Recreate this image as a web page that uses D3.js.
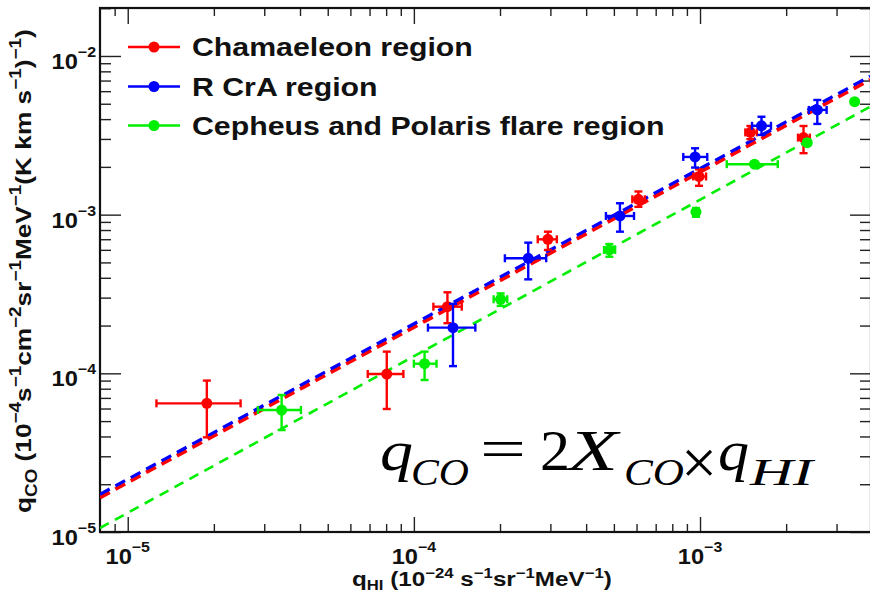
<!DOCTYPE html>
<html><head><meta charset="utf-8">
<script src="https://cdn.jsdelivr.net/npm/d3@7"></script>
<style>body{margin:0;background:#fff} svg{display:block}</style>
</head><body><svg id="c" width="870" height="595"></svg>
<script>
// ---------------- data ----------------
const seriesNames = ["Chamaeleon region", "R CrA region", "Cepheus and Polaris flare region"];
const seriesColors = ["#ff0000", "#0000ff", "#00ee00"];

const chamX   = [1.89e-5, 8.04e-5, 1.31e-4, 2.94e-4, 6.09e-4, 9.92e-4, 1.50e-3, 2.30e-3];
const chamXLo = [1.26e-5, 6.90e-5, 1.17e-4, 2.71e-4, 5.80e-4, 9.47e-4, 1.44e-3, 2.20e-3];
const chamXHi = [2.48e-5, 9.19e-5, 1.47e-4, 3.16e-4, 6.42e-4, 1.05e-3, 1.58e-3, 2.42e-3];
const chamY   = [6.47e-5, 9.90e-5, 2.63e-4, 6.99e-4, 1.25e-3, 1.74e-3, 3.30e-3, 3.06e-3];
const chamYLo = [3.95e-5, 5.96e-5, 2.07e-4, 5.99e-4, 1.12e-3, 1.52e-3, 2.99e-3, 2.44e-3];
const chamYHi = [9.00e-5, 1.37e-4, 3.24e-4, 7.81e-4, 1.40e-3, 1.93e-3, 3.62e-3, 3.62e-3];

const rcraX   = [1.37e-4, 2.51e-4, 5.25e-4, 9.61e-4, 1.64e-3, 2.57e-3];
const rcraXLo = [1.12e-4, 2.08e-4, 4.69e-4, 8.74e-4, 1.52e-3, 2.40e-3];
const rcraXHi = [1.64e-4, 2.90e-4, 5.88e-4, 1.06e-3, 1.77e-3, 2.77e-3];
const rcraY   = [1.94e-4, 5.31e-4, 9.81e-4, 2.31e-3, 3.63e-3, 4.57e-3];
const rcraYLo = [1.11e-4, 3.91e-4, 7.81e-4, 1.98e-3, 3.18e-3, 3.73e-3];
const rcraYHi = [2.74e-4, 6.66e-4, 1.18e-3, 2.62e-3, 4.14e-3, 5.28e-3];

const cephX   = [3.45e-5, 1.09e-4, 2.01e-4, 4.82e-4, 9.68e-4, 1.55e-3, 2.37e-3, 3.47e-3];
const cephXLo = [2.85e-5, 1.00e-4, 1.90e-4, 4.62e-4, 9.55e-4, 1.24e-3, 2.33e-3, 3.42e-3];
const cephXHi = [4.03e-5, 1.20e-4, 2.12e-4, 5.05e-4, 9.81e-4, 1.87e-3, 2.41e-3, 3.52e-3];
const cephY   = [5.87e-5, 1.15e-4, 2.93e-4, 5.99e-4, 1.04e-3, 2.08e-3, 2.84e-3, 5.15e-3];
const cephYLo = [4.39e-5, 9.08e-5, 2.66e-4, 5.43e-4, 9.70e-4, 2.03e-3, 2.72e-3, 4.97e-3];
const cephYHi = [7.30e-5, 1.37e-4, 3.19e-4, 6.53e-4, 1.10e-3, 2.13e-3, 2.97e-3, 5.33e-3];

// fitted relations q_CO = 2 X_CO q_HI (end points of the dashed lines)
const fitX    = [8.0e-6, 3.93e-3];
const fitCham = [1.65e-5, 7.10e-3];
const fitRcra = [1.73e-5, 7.45e-3];
const fitCeph = [1.06e-5, 4.79e-3];

// axes
const xDomain = [8.0e-6, 3.927e-3];
const yDomain = [1e-5, 2.006e-2];
const xMajor = [1e-5, 1e-4, 1e-3];
const xMajorExp = ["\u22125", "\u22124", "\u22123"];
const yMajor = [1e-5, 1e-4, 1e-3, 1e-2];
const yMajorExp = ["\u22125", "\u22124", "\u22123", "\u22122"];
const minorMult = [2, 3, 4, 5, 6, 7, 8, 9];

// ---------------- drawing ----------------
const FONT = "'Liberation Sans', Arial, Helvetica, sans-serif";
const SERIF = "'Liberation Serif', 'Times New Roman', serif";
const svg = d3.select("#c");
const L = 100, R = 870, T = 8, B = 532;

const x = d3.scaleLog().domain(xDomain).range([L, R]);
const y = d3.scaleLog().domain(yDomain).range([B, T]);

const inX = v => v >= xDomain[0] * 1.0001 && v <= xDomain[1];
const inY = v => v > yDomain[0] * 1.0001 && v < yDomain[1];
const xMinor = [1e-6, 1e-5, 1e-4, 1e-3].flatMap(d => minorMult.map(m => m * d)).filter(inX);
const yMinor = [1e-5, 1e-4, 1e-3, 1e-2].flatMap(d => minorMult.map(m => m * d)).filter(inY);

function styleAxis(g) {
  g.select(".domain").remove();
  g.selectAll("line").attr("stroke", "#222").attr("stroke-width", 1.4);
}
// bottom
svg.append("g").attr("transform", `translate(0,${B})`)
  .call(d3.axisBottom(x).tickValues(xMinor).tickSize(-8).tickFormat("")).call(styleAxis);
svg.append("g").attr("transform", `translate(0,${B})`)
  .call(d3.axisBottom(x).tickValues(xMajor).tickSize(-15).tickFormat("")).call(styleAxis);
// top
svg.append("g").attr("transform", `translate(0,${T})`)
  .call(d3.axisTop(x).tickValues(xMinor).tickSize(-8).tickFormat("")).call(styleAxis);
svg.append("g").attr("transform", `translate(0,${T})`)
  .call(d3.axisTop(x).tickValues(xMajor).tickSize(-16).tickFormat("")).call(styleAxis);
// left
svg.append("g").attr("transform", `translate(${L},0)`)
  .call(d3.axisLeft(y).tickValues(yMinor).tickSize(-11).tickFormat("")).call(styleAxis);
svg.append("g").attr("transform", `translate(${L},0)`)
  .call(d3.axisLeft(y).tickValues(yMajor).tickSize(-21).tickFormat("")).call(styleAxis);
// right
svg.append("g").attr("transform", `translate(${R},0)`)
  .call(d3.axisRight(y).tickValues(yMinor).tickSize(-10).tickFormat("")).call(styleAxis);
svg.append("g").attr("transform", `translate(${R},0)`)
  .call(d3.axisRight(y).tickValues(yMajor).tickSize(-20).tickFormat("")).call(styleAxis);

// frame
svg.append("rect").attr("x", L).attr("y", T).attr("width", R - L + 1).attr("height", B - T)
  .attr("fill", "none").attr("stroke", "#111").attr("stroke-width", 2.2);

// tick labels
function powLabel(g, px, py, exp, anchor, sx) {
  const t = g.append("text")
    .attr("transform", `translate(${px},${py}) scale(${sx},1)`)
    .attr("text-anchor", anchor).attr("font-family", FONT).attr("font-weight", "bold")
    .attr("font-size", 21.5).attr("fill", "#111");
  t.append("tspan").text("10");
  t.append("tspan").attr("font-size", 14.5).attr("dy", -12).text(exp);
  return t;
}
const labels = svg.append("g");
xMajor.forEach((d, i) => powLabel(labels, x(d), 564, xMajorExp[i], "middle", 1.1));
yMajor.forEach((d, i) => powLabel(labels, 96, y(d) + 13, yMajorExp[i], "end", 1.1));

// rich text helper (levels: 0 normal, 1 superscript, -1 subscript)
function richText(g, parts, size, smallSize, supRaise, subDrop) {
  const t = g.append("text").attr("font-family", FONT).attr("font-weight", "bold")
    .attr("font-size", size).attr("fill", "#111");
  let cur = 0;
  const off = {"0": 0, "1": -supRaise * size, "-1": subDrop * size};
  parts.forEach(([s, lev]) => {
    const dy = off[lev] - off[cur];
    cur = lev;
    const ts = t.append("tspan").attr("dy", dy).text(s);
    if (lev !== 0) ts.attr("font-size", smallSize);
  });
  return t;
}
function fitTo(t, tx, ty, targetW, sy, rot) {
  const w = t.node().getComputedTextLength();
  const sx = targetW / w;
  t.attr("transform", `translate(${tx},${ty})${rot ? " rotate(" + rot + ")" : ""} scale(${sx},${sy})`);
}

// x title
const xt = richText(svg, [["q", 0], ["HI", -1], [" (10", 0], ["\u221224", 1], [" s", 0], ["\u22121", 1],
  ["sr", 0], ["\u22121", 1], ["MeV", 0], ["\u22121", 1], [")", 0]], 21, 14.5, 0.4, 0.2);
fitTo(xt, 352, 586, 260, 1);

// y title
const yt = richText(svg, [["q", 0], ["CO", -1], [" (10", 0], ["\u22124", 1], ["s", 0], ["\u22121", 1],
  ["cm", 0], ["\u22122", 1], ["sr", 0], ["\u22121", 1], ["MeV", 0], ["\u22121", 1], ["(K km s", 0],
  ["\u22121", 1], [")", 0], ["\u22121", 1], [")", 0]], 19.5, 14, 0.45, 0.28);
fitTo(yt, 31, 513, 484, 1.15, -90);

// fitted dashed lines
const lineGen = d3.line().x(d => x(d[0])).y(d => y(d[1]));
const fits = [
  {vals: fitCeph, color: seriesColors[2], w: 2.6, dash: "10,7"},
  {vals: fitCham, color: seriesColors[0], w: 3.8, dash: "11,6.5"},
  {vals: fitRcra, color: seriesColors[1], w: 3.2, dash: "11,6.5"}
];
svg.append("clipPath").attr("id", "plotclip").append("rect")
  .attr("x", L).attr("y", T).attr("width", R - L).attr("height", B - T);
fits.forEach(f => {
  svg.append("path").datum(fitX.map((v, i) => [v, f.vals[i]]))
    .attr("d", lineGen).attr("fill", "none").attr("stroke", f.color)
    .attr("stroke-width", f.w).attr("stroke-dasharray", f.dash)
    .attr("clip-path", "url(#plotclip)");
});

// data points with error bars
const series = [
  {xs: chamX, xl: chamXLo, xh: chamXHi, ys: chamY, yl: chamYLo, yh: chamYHi, color: seriesColors[0]},
  {xs: rcraX, xl: rcraXLo, xh: rcraXHi, ys: rcraY, yl: rcraYLo, yh: rcraYHi, color: seriesColors[1]},
  {xs: cephX, xl: cephXLo, xh: cephXHi, ys: cephY, yl: cephYLo, yh: cephYHi, color: seriesColors[2]}
];
const CAP = 4;
series.forEach(s => {
  const g = svg.append("g").attr("stroke", s.color).attr("fill", s.color);
  s.xs.forEach((xv, i) => {
    const cx = x(xv), cy = y(s.ys[i]);
    const x0 = x(s.xl[i]), x1 = x(s.xh[i]), y0 = y(s.yl[i]), y1 = y(s.yh[i]);
    const e = g.append("g").attr("stroke-width", 2.4);
    e.append("line").attr("x1", x0).attr("x2", x1).attr("y1", cy).attr("y2", cy);
    e.append("line").attr("x1", cx).attr("x2", cx).attr("y1", y0).attr("y2", y1);
    e.append("line").attr("x1", x0).attr("x2", x0).attr("y1", cy - CAP).attr("y2", cy + CAP);
    e.append("line").attr("x1", x1).attr("x2", x1).attr("y1", cy - CAP).attr("y2", cy + CAP);
    e.append("line").attr("x1", cx - CAP).attr("x2", cx + CAP).attr("y1", y0).attr("y2", y0);
    e.append("line").attr("x1", cx - CAP).attr("x2", cx + CAP).attr("y1", y1).attr("y2", y1);
    g.append("circle").attr("cx", cx).attr("cy", cy).attr("r", 5.5).attr("stroke", "none");
  });
});

// legend
const legRows = [47, 86.5, 125.5];
const leg = svg.append("g");
let legScale = null;
seriesNames.forEach((name, i) => {
  const yy = legRows[i];
  leg.append("line").attr("x1", 128).attr("x2", 180).attr("y1", yy).attr("y2", yy)
    .attr("stroke", seriesColors[i]).attr("stroke-width", 2.6);
  leg.append("circle").attr("cx", 154).attr("cy", yy).attr("r", 5.5).attr("fill", seriesColors[i]);
  const t = leg.append("text").attr("font-family", FONT).attr("font-weight", "bold")
    .attr("font-size", 25).attr("fill", "#111").text(name);
  if (legScale === null) legScale = 281 / t.node().getComputedTextLength();
  t.attr("transform", `translate(192,${yy + 9}) scale(${legScale},1)`);
});

// formula annotation
const formula = [
  {s: "q",  x: 380, y: 470, size: 58, it: true,  len: 33},
  {s: "CO", x: 411, y: 485, size: 37, it: true,  len: 58},
  {s: "=",  x: 480, y: 468, size: 58, it: false, len: 46},
  {s: "2",  x: 540, y: 470, size: 58, it: false, len: 30},
  {s: "X",  x: 568, y: 470, size: 58, it: true,  len: 50},
  {s: "CO", x: 624, y: 485, size: 37, it: true,  len: 60},
  {s: "q",  x: 718, y: 470, size: 58, it: true,  len: 31},
  {s: "HI", x: 750, y: 485, size: 37, it: true,  len: 63}
];
const fg = svg.append("g");
formula.forEach(p => {
  fg.append("text").attr("x", p.x).attr("y", p.y).attr("font-family", SERIF)
    .attr("font-size", p.size).attr("font-style", p.it ? "italic" : "normal")
    .attr("textLength", p.len).attr("lengthAdjust", "spacingAndGlyphs")
    .attr("fill", "#000").text(p.s);
});
// multiplication sign
fg.append("text").attr("x", 699).attr("y", 462).attr("text-anchor", "middle")
  .attr("dominant-baseline", "central").attr("font-family", SERIF)
  .attr("font-size", 64).attr("fill", "#000").text("\u00d7");
</script>
</body></html>
